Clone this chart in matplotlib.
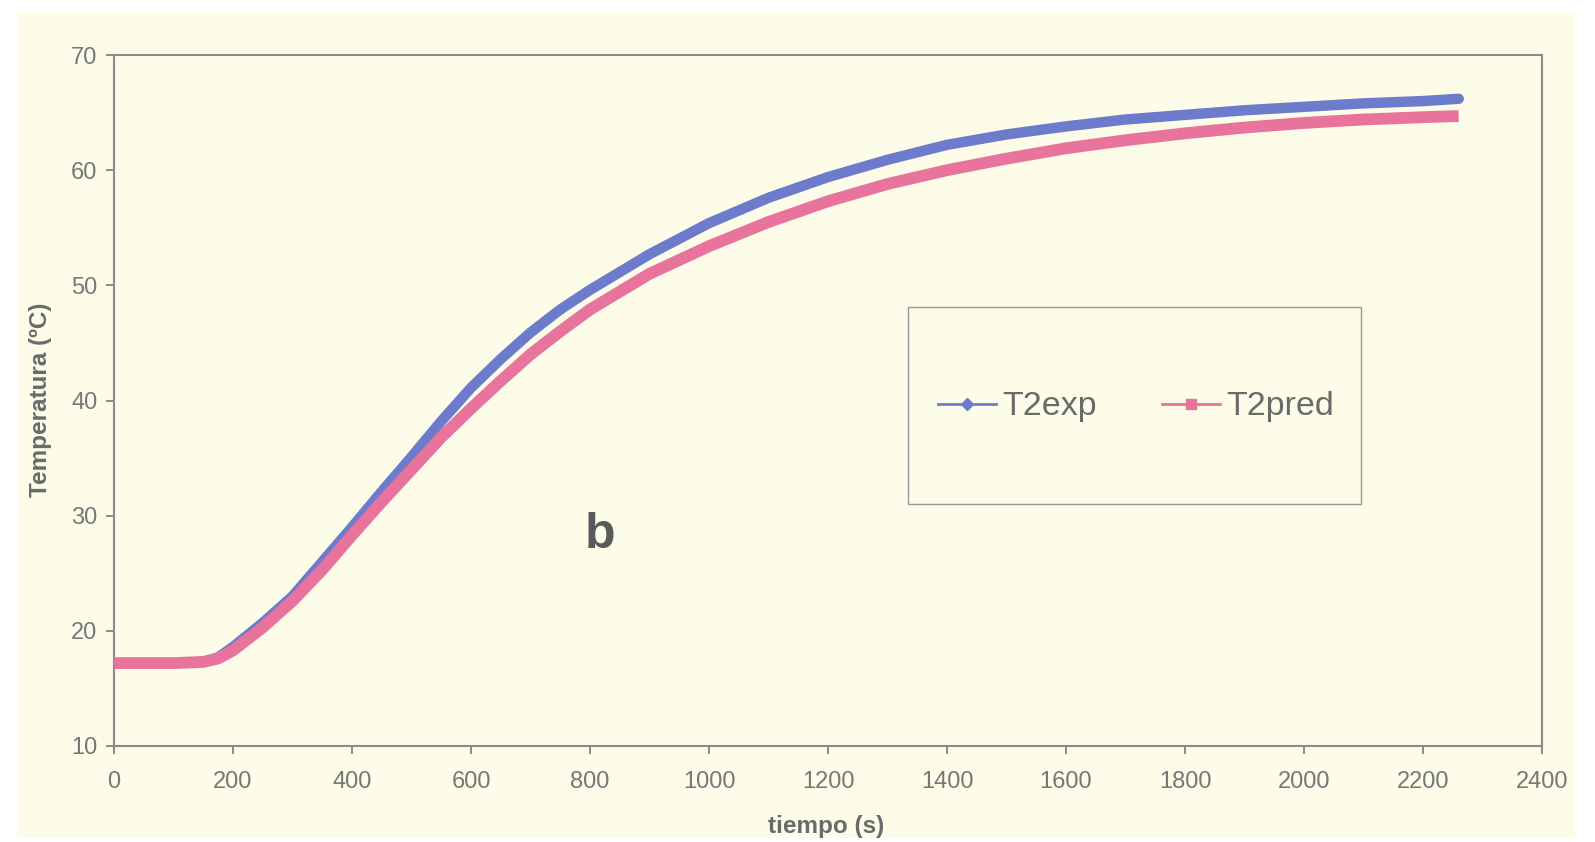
import matplotlib
matplotlib.use("Agg")
import matplotlib.pyplot as plt
from matplotlib.lines import Line2D
from matplotlib.patches import Rectangle

plt.rcParams['font.family'] = ['Liberation Sans', 'DejaVu Sans']

# ---- data ----
tiempo = [0, 50, 100, 150, 175, 200, 250, 300, 350, 400, 450, 500, 550, 600, 650,
          700, 750, 800, 900, 1000, 1100, 1200, 1300, 1400, 1500, 1600, 1700,
          1800, 1900, 2000, 2100, 2200, 2260]
T2exp = [17.2, 17.2, 17.2, 17.3, 17.7, 18.6, 20.7, 23.0, 26.0, 29.0, 32.1, 35.1,
         38.2, 41.1, 43.6, 45.9, 47.9, 49.6, 52.7, 55.4, 57.6, 59.4, 60.9, 62.2,
         63.1, 63.8, 64.4, 64.8, 65.2, 65.5, 65.8, 66.0, 66.2]
T2pred = [17.2, 17.2, 17.2, 17.3, 17.6, 18.3, 20.3, 22.6, 25.3, 28.3, 31.2, 34.0,
          36.8, 39.3, 41.7, 44.0, 46.0, 47.9, 51.0, 53.4, 55.5, 57.3, 58.8, 60.0,
          61.0, 61.9, 62.6, 63.2, 63.7, 64.1, 64.4, 64.6, 64.7]
series_names = ['T2exp', 'T2pred']
xticks = list(range(0, 2401, 200))
yticks = list(range(10, 71, 10))

BLUE = '#6c7bcb'
PINK = '#e8739c'
CREAM = '#fcfce9'
GRAY = '#777777'

W, H = 1595, 842
fig = plt.figure(figsize=(W / 100, H / 100), dpi=100, facecolor='white')
fig.patches.append(Rectangle((17 / W, 1 - 838 / H), (1575 - 17) / W, (838 - 12) / H,
                             transform=fig.transFigure, facecolor=CREAM,
                             edgecolor='none', zorder=-10))

ax = fig.add_axes([114 / W, 1 - 746 / H, (1542 - 114) / W, (746 - 55) / H])
ax.set_facecolor(CREAM)

ax.plot(tiempo, T2exp, color=BLUE, lw=7.5, solid_capstyle='round',
        solid_joinstyle='round', zorder=3)
ax.plot(tiempo, T2pred, color=PINK, lw=8.5, solid_capstyle='butt',
        solid_joinstyle='round', zorder=4)

ax.set_xlim(0, 2400)
ax.set_ylim(10, 70)
ax.set_xticks(xticks)
ax.set_yticks(yticks)
ax.tick_params(axis='both', direction='out', length=6, width=1.3, color='#808080',
               labelsize=17, labelcolor=GRAY)
ax.tick_params(axis='x', pad=12)
ax.tick_params(axis='y', pad=6)
for s in ax.spines.values():
    s.set_color('#8a8a8a')
    s.set_linewidth(1.5)

fig.text(826 / W, 1 - 826 / H, 'tiempo (s)', ha='center', va='center',
         fontsize=17.5, fontweight='bold', color='#6a6a6a')
fig.text(41 / W, 1 - 400 / H, 'Temperatura (ºC)', ha='center', va='center',
         rotation=90, fontsize=17.5, fontweight='bold', color='#6a6a6a')

ax.text(817, 10 + (746 - 534) / 11.55, 'b', ha='center', va='center',
        fontsize=36, fontweight='bold', color='#5a5a5a')

# legend frame
fig.patches.append(Rectangle((908 / W, 1 - 504 / H), (1361 - 908) / W, (504 - 307) / H,
                             transform=fig.transFigure, facecolor=CREAM,
                             edgecolor='#999999', lw=1.0, zorder=5))
handles = [Line2D([], [], color=BLUE, lw=2, marker='D', markersize=6),
           Line2D([], [], color=PINK, lw=2, marker='s', markersize=7)]
fig.legend(handles, series_names, loc='center', bbox_to_anchor=(1136 / W, 1 - 407 / H),
           ncol=2, frameon=False, fontsize=24.5, labelcolor='#6a6a6a',
           handlelength=1.7, handletextpad=0.2, columnspacing=1.9)

fig.savefig('out.png', dpi=100, facecolor=fig.get_facecolor())
